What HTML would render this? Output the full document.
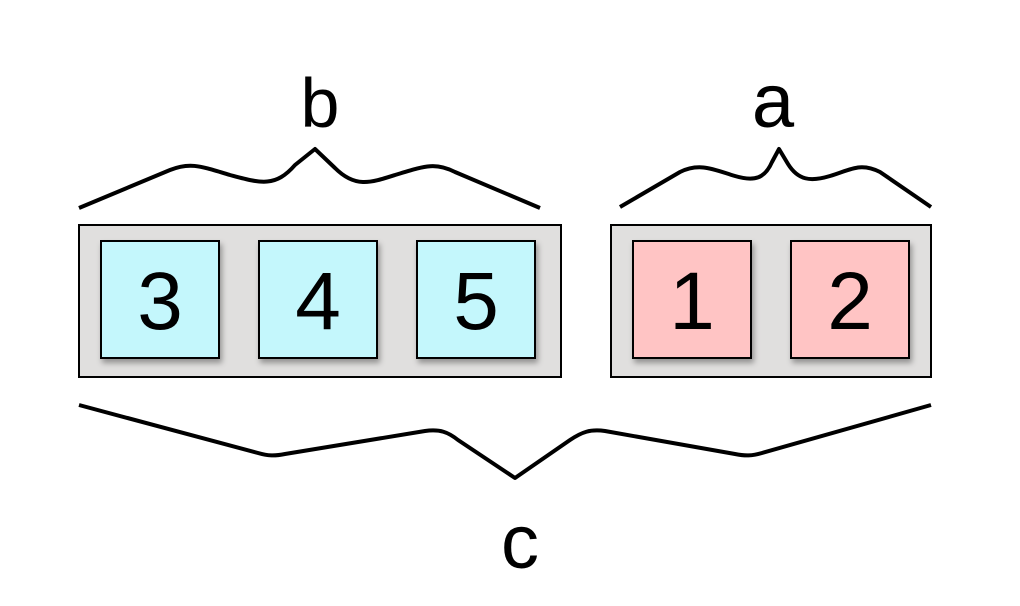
<!DOCTYPE html>
<html><head><meta charset="utf-8"><style>
html,body{margin:0;padding:0;background:#fff;}
svg{display:block;font-family:"Liberation Sans",sans-serif;}
</style></head><body>
<svg width="1020" height="606" viewBox="0 0 1020 606">
<defs>
<filter id="sh" x="-20%" y="-20%" width="150%" height="150%">
<feDropShadow dx="2" dy="4" stdDeviation="3" flood-color="#000" flood-opacity="0.35"/>
</filter>
</defs>
<g fill="none" stroke="#000" stroke-width="4" stroke-linejoin="round">
<path d="M79,208 L170,170 C190,162 200,166 230,175 C260,183 275,188 295,165 L315,149 L335,168 C355,188 370,183 395,175 C425,166 435,162 455,172 L540,208"/>
<path d="M620,207 L680,172 C700,162 715,170 735,176 C755,182 765,178 772,162 L779,149 L788,164 C798,180 810,182 830,176 C850,170 860,162 880,172 L931,207"/>
<path d="M79,405 L258,453 C268,456 275,456 285,454 L425,431 C440,429 448,432 458,440 L515,478 L570,440 C582,432 590,429 605,431 L735,454 C745,456 752,456 762,453 L931,405"/>
</g>
<text x="320" y="127" font-size="70" text-anchor="middle">b</text>
<text x="773" y="127" font-size="76" text-anchor="middle">a</text>
<text x="520" y="568" font-size="76" text-anchor="middle">c</text>
<rect x="79" y="225" width="482" height="152" fill="#e0dfde" stroke="#000" stroke-width="2"/>
<rect x="611" y="225" width="320" height="152" fill="#e0dfde" stroke="#000" stroke-width="2"/>
<g stroke="#000" stroke-width="2" filter="url(#sh)">
<rect x="101" y="241" width="118" height="117" fill="#c4f7fc"/>
<rect x="259" y="241" width="118" height="117" fill="#c4f7fc"/>
<rect x="417" y="241" width="118" height="117" fill="#c4f7fc"/>
<rect x="633" y="241" width="118" height="117" fill="#ffc4c4"/>
<rect x="791" y="241" width="118" height="117" fill="#ffc4c4"/>
</g>
<g font-size="82" text-anchor="middle">
<text x="160" y="329">3</text>
<text x="318" y="329">4</text>
<text x="476" y="329">5</text>
<text x="692" y="329">1</text>
<text x="850" y="329">2</text>
</g>
</svg>
</body></html>
